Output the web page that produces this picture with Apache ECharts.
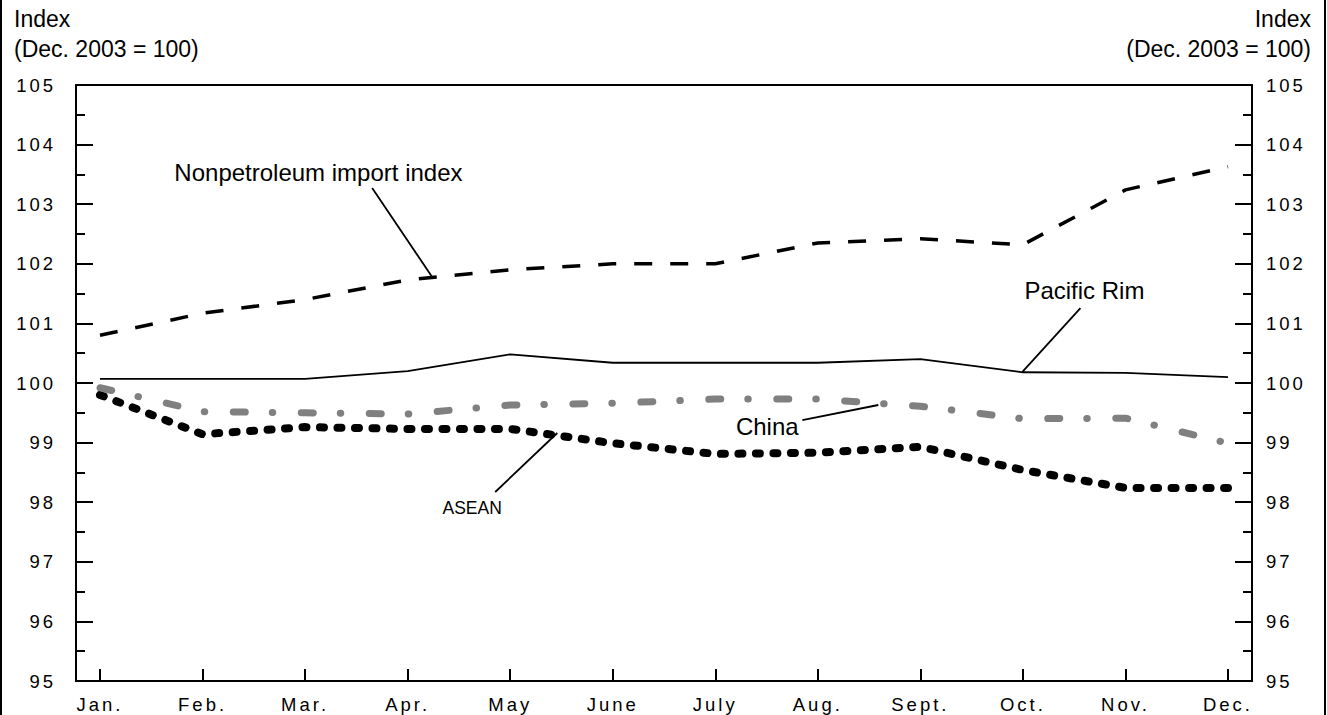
<!DOCTYPE html>
<html>
<head>
<meta charset="utf-8">
<script src="https://cdn.jsdelivr.net/npm/echarts@6/dist/echarts.min.js"></script>
<style>
html,body{margin:0;padding:0;background:#fff;}
#chart{width:1327px;height:715px;}
</style>
</head>
<body>
<div id="chart"></div>
<script>
// ---- data ----
const months = ['Jan.','Feb.','Mar.','Apr.','May','June','July','Aug.','Sept.','Oct.','Nov.','Dec.'];
const yTicks = ['95','96','97','98','99','100','101','102','103','104','105'];
const nonpetroleum = [100.8, 101.17, 101.4, 101.73, 101.9, 102.0, 102.0, 102.35, 102.42, 102.32, 103.24, 103.63];
const pacificRim  = [100.07, 100.07, 100.07, 100.2, 100.48, 100.34, 100.34, 100.34, 100.40, 100.18, 100.17, 100.1];
const china       = [99.92, 99.52, 99.5, 99.48, 99.63, 99.66, 99.73, 99.73, 99.61, 99.40, 99.41, 98.99];
const asean       = [99.8, 99.14, 99.26, 99.23, 99.23, 98.99, 98.81, 98.83, 98.93, 98.54, 98.24, 98.24];

// annotation label anchors and leader lines (in data units)
const labelNonpet = [2.13, 103.54];
const leaderNonpet = [[2.654, 103.272], [3.239, 101.779]];
const labelPacific = [9.6, 101.544];
const leaderPacific = [[9.561, 101.258], [8.995, 100.185]];
const labelChina = [6.507, 99.262];
const leaderChina = [[6.849, 99.379], [7.59, 99.631]];
const labelAsean = [3.629, 97.903];
const leaderAsean = [[3.854, 98.171], [4.459, 99.161]];

const FONT = '"Liberation Sans", Arial, Helvetica, sans-serif';
const pad = 24 / 102.5;
const xIdx = months.map((m, i) => i);
const toPairs = arr => arr.map((v, i) => [i, v]);

function leader(coords) {
  return {
    silent: true, symbol: ['none', 'none'], animation: false,
    label: {show: false},
    lineStyle: {color: '#000', width: 1.8, type: 'solid'},
    emphasis: {disabled: true},
    data: [[{coord: coords[0]}, {coord: coords[1]}]]
  };
}
function note(text, coord, size) {
  return {
    silent: true, symbol: 'circle', symbolSize: 1, animation: false,
    itemStyle: {color: 'rgba(0,0,0,0)'},
    label: {show: true, position: 'inside', formatter: text, color: '#000',
            fontSize: size, fontFamily: FONT},
    emphasis: {disabled: true},
    data: [{coord: coord}]
  };
}

const chart = echarts.init(document.getElementById('chart'), null, {renderer: 'svg'});

const yAxisCommon = {
  type: 'value', min: 95, max: 105, interval: 1,
  axisLine: {show: true, onZero: false, lineStyle: {color: '#000', width: 2}},
  axisTick: {show: true, inside: true, length: 17, lineStyle: {color: '#000', width: 2}},
  minorTick: {show: true, splitNumber: 2, length: 9, lineStyle: {color: '#000', width: 2}},
  splitLine: {show: false},
  minorSplitLine: {show: false},
  axisLabel: {color: '#000', fontSize: 18.5, fontFamily: FONT}
};

chart.setOption({
  animation: false,
  backgroundColor: '#fff',
  grid: {left: 76, right: 75, top: 85, bottom: 34, containLabel: false},
  xAxis: [{
    type: 'value', min: -pad, max: 11 + pad, position: 'bottom',
    axisLine: {show: true, onZero: false, lineStyle: {color: '#000', width: 2}},
    axisTick: {show: true, inside: true, length: 12, customValues: xIdx, lineStyle: {color: '#000', width: 2}},
    axisLabel: {show: true, customValues: xIdx, margin: 14, color: '#000', fontSize: 18.5, fontFamily: FONT,
                formatter: v => months[Math.round(v)]},
    splitLine: {show: false}
  }, {
    type: 'value', min: -pad, max: 11 + pad, position: 'top',
    axisLine: {show: true, onZero: false, lineStyle: {color: '#000', width: 2}},
    axisTick: {show: false}, axisLabel: {show: false}, splitLine: {show: false}
  }],
  yAxis: [
    Object.assign({}, yAxisCommon, {position: 'left', axisLabel: Object.assign({}, yAxisCommon.axisLabel, {margin: 20})}),
    Object.assign({}, yAxisCommon, {position: 'right', axisLabel: Object.assign({}, yAxisCommon.axisLabel, {margin: 14})})
  ],
  series: [
    {
      name: 'Nonpetroleum import index', type: 'line', data: toPairs(nonpetroleum),
      symbol: 'none', silent: true,
      lineStyle: {color: '#000', width: 3.5, type: [18, 18], cap: 'butt'},
      markLine: leader(leaderNonpet),
      markPoint: note('Nonpetroleum import index', labelNonpet, 24)
    },
    {
      name: 'Pacific Rim', type: 'line', data: toPairs(pacificRim),
      symbol: 'none', silent: true,
      lineStyle: {color: '#000', width: 1.8, type: 'solid'},
      markLine: leader(leaderPacific),
      markPoint: note('Pacific Rim', labelPacific, 24)
    },
    {
      name: 'ASEAN', type: 'line', data: toPairs(asean),
      symbol: 'none', silent: true,
      lineStyle: {color: '#000', width: 8, type: [4, 13.5], cap: 'round', join: 'round'},
      markLine: leader(leaderAsean),
      markPoint: note('ASEAN', labelAsean, 17.5)
    },
    {
      name: 'China', type: 'line', data: toPairs(china),
      symbol: 'none', silent: true,
      lineStyle: {color: '#808080', width: 7, type: [12, 27, 0.5, 28.5], cap: 'round', join: 'round'},
      markLine: leader(leaderChina),
      markPoint: note('China', labelChina, 24)
    }
  ],
  graphic: [
    {type: 'text', left: 14, top: 4, silent: true,
     style: {text: 'Index\n(Dec. 2003 = 100)', fill: '#000', font: '23px ' + FONT, lineHeight: 30, textAlign: 'left'}},
    {type: 'text', right: 16, top: 4, silent: true,
     style: {text: 'Index\n(Dec. 2003 = 100)', fill: '#000', font: '23px ' + FONT, lineHeight: 30, textAlign: 'right'}},
    {type: 'line', silent: true, shape: {x1: 1, y1: 0, x2: 1, y2: 715}, style: {stroke: '#000', lineWidth: 2}},
    {type: 'line', silent: true, shape: {x1: 1325, y1: 0, x2: 1325, y2: 715}, style: {stroke: '#000', lineWidth: 2}}
  ]
});

// tick labels in the reference are letter-spaced
const spaced = new Set(months.concat(yTicks));
function applySpacing() {
  document.querySelectorAll('#chart text').forEach(t => {
    if (spaced.has(t.textContent.trim())) t.style.letterSpacing = '3px';
  });
}
applySpacing();
chart.on('finished', applySpacing);
</script>
</body>
</html>
